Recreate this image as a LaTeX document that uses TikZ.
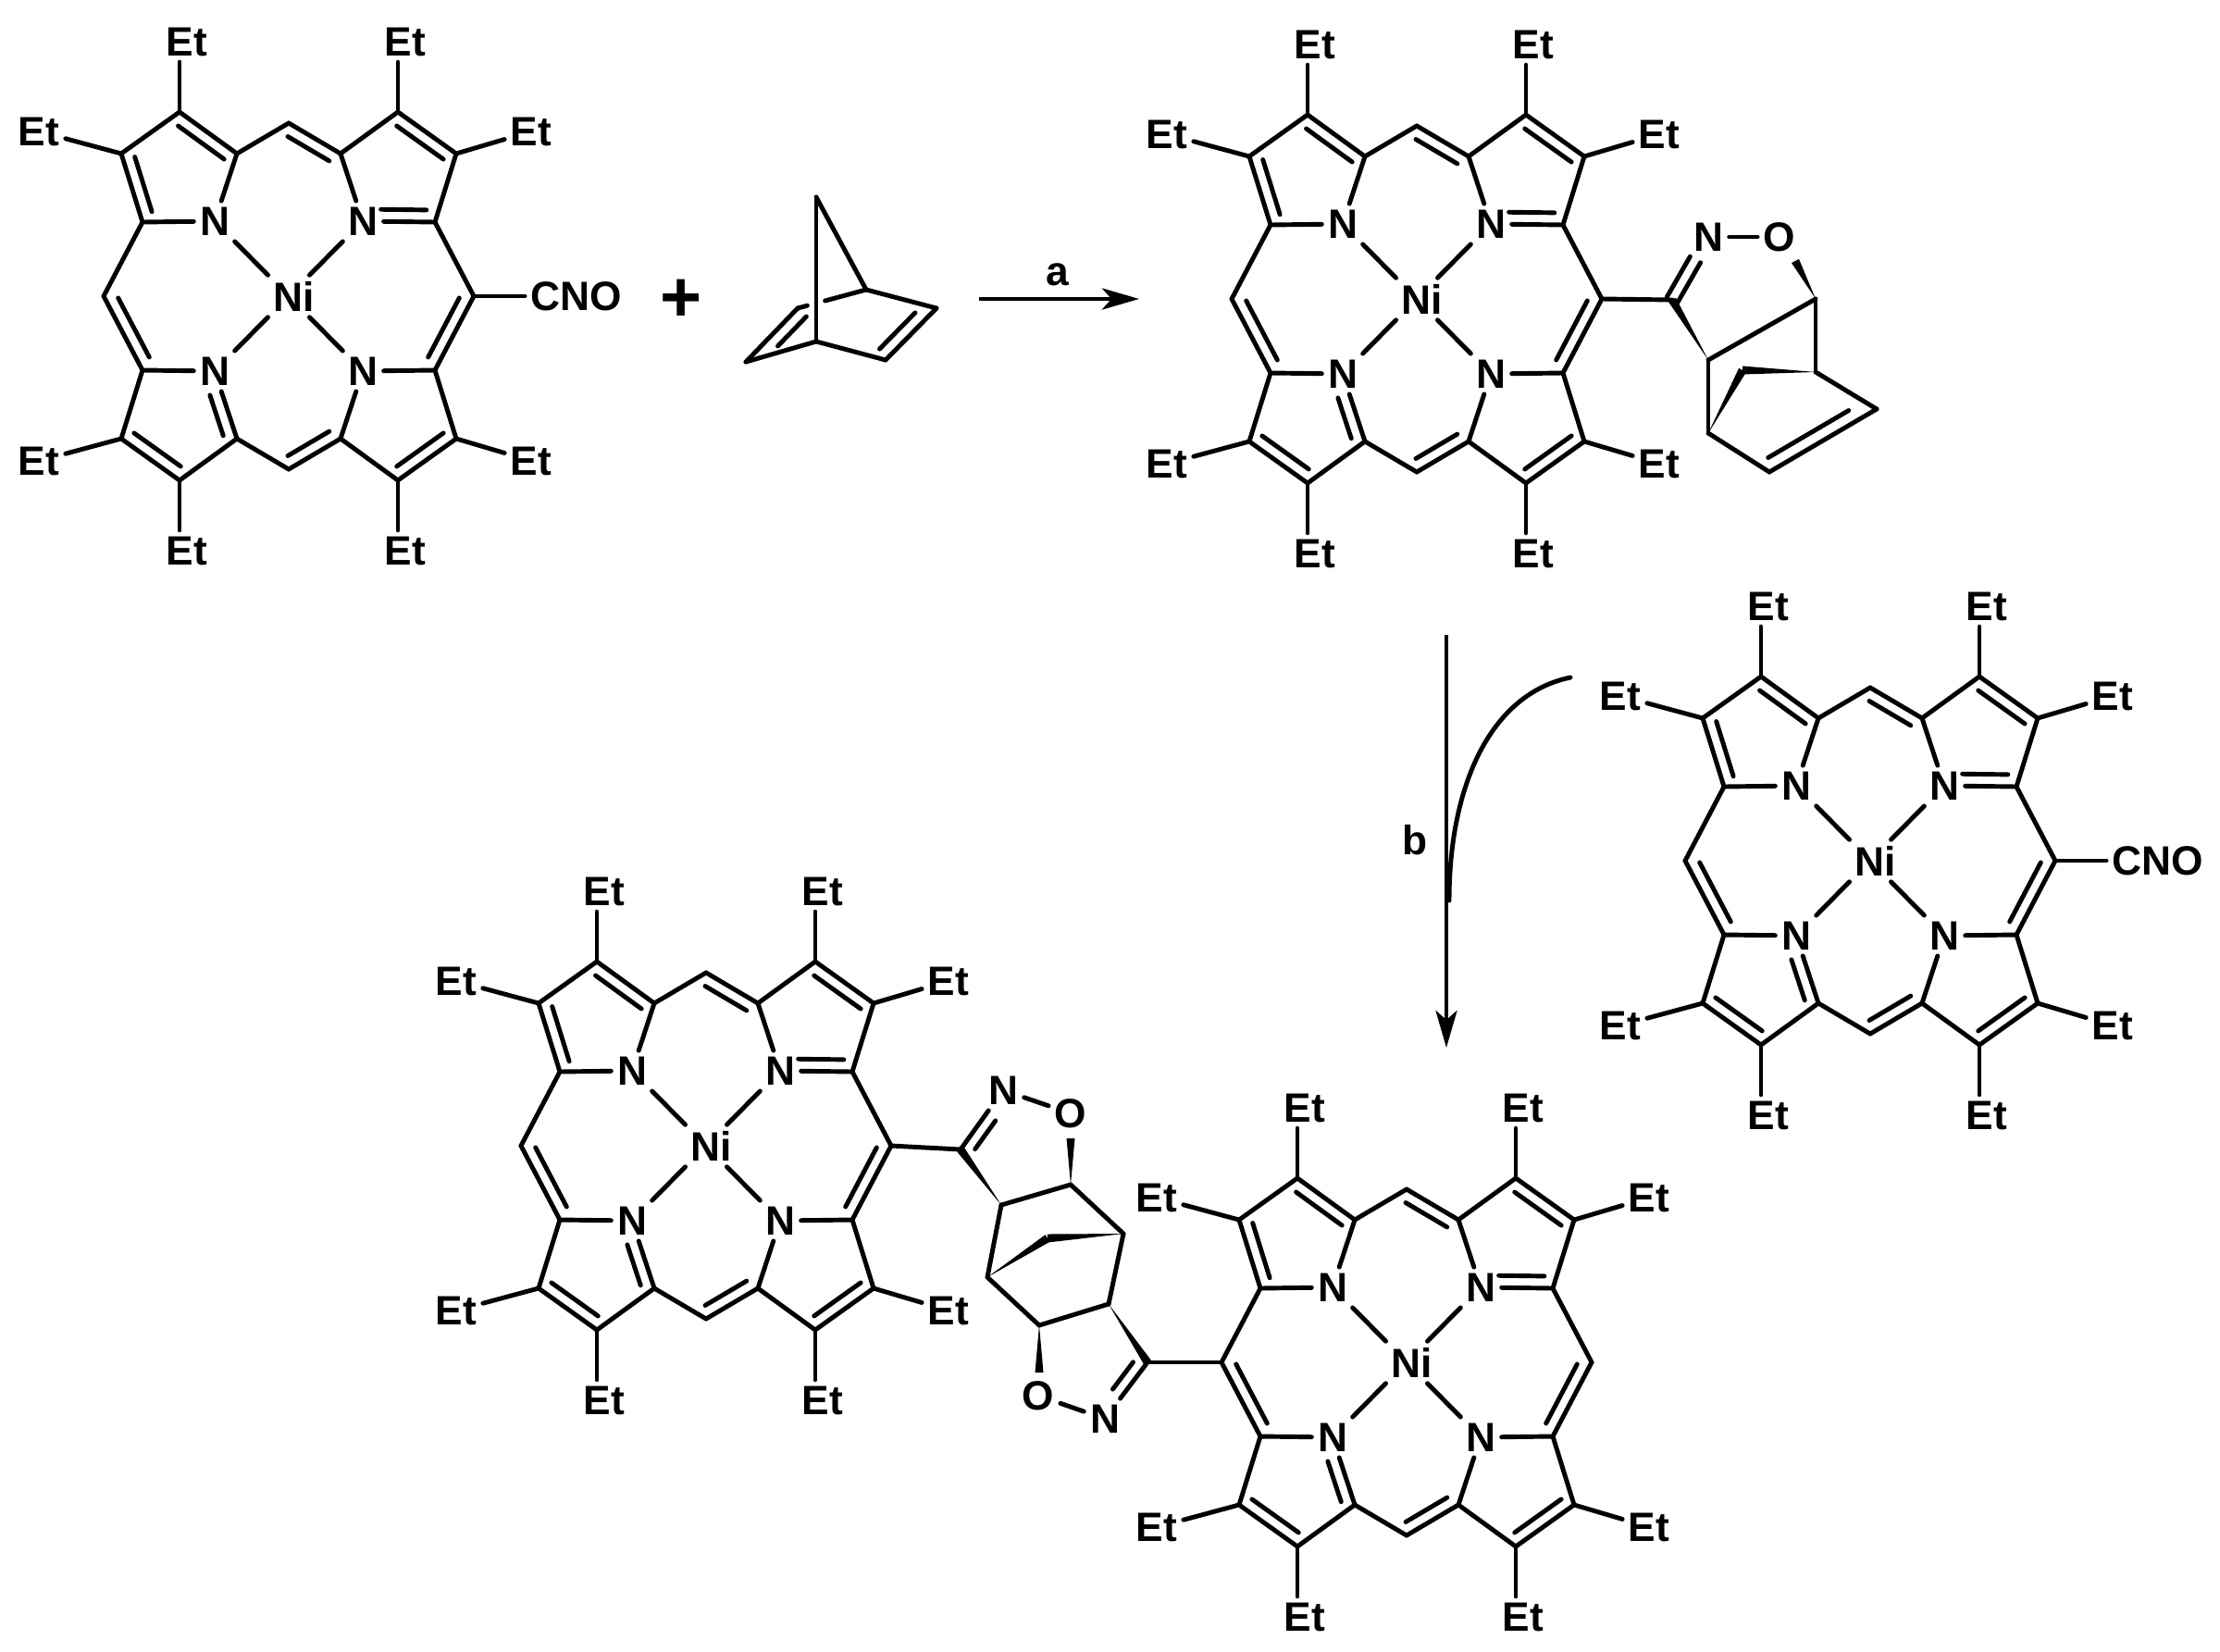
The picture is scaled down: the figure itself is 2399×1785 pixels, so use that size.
\documentclass[tikz,border=0pt]{standalone}
\usepackage{fontspec}
\setmainfont{Liberation Sans}
\usetikzlibrary{calc,arrows.meta}
\newcommand{\dbond}[5]{\draw[bond] ($(#1)!#3!(#2)!#5!90:(#2)$) -- ($(#2)!#4!(#1)!#5!-90:(#1)$);}
\newcommand{\ringd}[2]{\draw[bond] (#1) -- (#2); \dbond{#1}{#2}{.1}{.1}{1.3mm}}
\newcommand{\wdg}[2]{\fill ($(#2)!.45mm!90:(#1)$) -- (#1) -- ($(#2)!.45mm!-90:(#1)$) -- cycle;}
\tikzset{
  bond/.style={line width=1.4pt, line cap=round},
  rxn/.style={line width=1.4pt, -{Stealth[length=4mm,width=2.3mm,inset=1mm]}},
  atom/.style={font=\fontsize{12.6}{14}\selectfont\bfseries, inner sep=.6mm},
  porph/.pic={
    \coordinate (a1) at (-158,-80);
    \coordinate (b1) at (-181,-154);
    \coordinate (b2) at (-118,-199);
    \coordinate (a2) at (-56,-154);
    \coordinate (mt) at (0,-187);
    \coordinate (a3) at (56,-154);
    \coordinate (b3) at (118,-199);
    \coordinate (b4) at (181,-154);
    \coordinate (a4) at (158,-80);
    \coordinate (mr) at (200,0);
    \coordinate (a5) at (158,80);
    \coordinate (b5) at (181,154);
    \coordinate (b6) at (118,199);
    \coordinate (a6) at (56,154);
    \coordinate (mb) at (0,187);
    \coordinate (a7) at (-56,154);
    \coordinate (b7) at (-118,199);
    \coordinate (b8) at (-181,154);
    \coordinate (a8) at (-158,80);
    \coordinate (ml) at (-200,0);
    \node[atom] (n1) at (-80,-81) {N};
    \node[atom] (n2) at (80,-81) {N};
    \node[atom] (n3) at (80,81) {N};
    \node[atom] (n4) at (-80,81) {N};
    \node[atom] (ni) at (0,0) {\hspace{1.2mm}Ni};
    \node[atom] (e1) at (-270,-178) {Et};
    \node[atom] (e2) at (-110,-275) {Et};
    \node[atom] (e3) at (126,-275) {Et};
    \node[atom] (e4) at (262,-178) {Et};
    \node[atom] (e5) at (262,178) {Et};
    \node[atom] (e6) at (126,275) {Et};
    \node[atom] (e7) at (-110,275) {Et};
    \node[atom] (e8) at (-270,178) {Et};
    \draw[bond] (n1) -- (ni);
    \draw[bond] (n2) -- (ni);
    \draw[bond] (n3) -- (ni);
    \draw[bond] (n4) -- (ni);
    % pyrroles
    \draw[bond] (n1) -- (a1);
    \ringd{b1}{a1}
    \draw[bond] (b1) -- (b2);
    \ringd{a2}{b2}
    \draw[bond] (a2) -- (n1);
    \draw[bond] (a3) -- (n2);
    \draw[bond] (a3) -- (b3);
    \ringd{b4}{b3}
    \draw[bond] (b4) -- (a4);
    \draw[bond] (a4) -- (n2);
    \dbond{n2}{a4}{.25}{.12}{1.3mm}
    \draw[bond] (a5) -- (n3);
    \draw[bond] (a5) -- (b5);
    \ringd{b6}{b5}
    \draw[bond] (b6) -- (a6);
    \draw[bond] (a6) -- (n3);
    \draw[bond] (a7) -- (n4);
    \dbond{a7}{n4}{.1}{.3}{1.3mm}
    \draw[bond] (a7) -- (b7);
    \ringd{b8}{b7}
    \draw[bond] (b8) -- (a8);
    \draw[bond] (a8) -- (n4);
    % meso carbons
    \draw[bond] (a2) -- (mt);
    \ringd{a3}{mt}
    \draw[bond] (a4) -- (mr);
    \ringd{a5}{mr}
    \ringd{mb}{a6}
    \draw[bond] (a7) -- (mb);
    \ringd{ml}{a8}
    \draw[bond] (a1) -- (ml);
    % ethyls
    \draw[bond] (b1) -- (e1);
    \draw[bond] (b2) -- (b2 |- e2.south);
    \draw[bond] (b3) -- (b3 |- e3.south);
    \draw[bond] (b4) -- (e4);
    \draw[bond] (b5) -- (e5);
    \draw[bond] (b6) -- (b6 |- e6.north);
    \draw[bond] (b7) -- (b7 |- e7.north);
    \draw[bond] (b8) -- (e8);
  }
}
\begin{document}
\begin{tikzpicture}[x=.1mm, y=-.1mm]
\useasboundingbox (0,0) rectangle (2399,1785);
% porphyrins
\pic (p1) at (312,320) {porph};
\pic (p2) at (1531,323) {porph};
\pic (p3) at (2021,930) {porph};
\pic (p4) at (763,1238) {porph};
\pic (p5) at (1520,1472) {porph};
\node[atom] (cno1) at (623,320) {CNO};
\draw[bond] (p1mr) -- (cno1);
\node[atom] (cno3) at (2332,930) {CNO};
\draw[bond] (p3mr) -- (cno3);
% norbornadiene
\node[atom, font=\fontsize{22}{24}\selectfont\bfseries] (plus) at (736,325) {+};
\coordinate (nb1) at (882,213);
\coordinate (nb2) at (936,313);
\coordinate (nb3) at (1012,333);
\coordinate (nb4) at (957,389);
\coordinate (nb5) at (882,369);
\coordinate (nb6) at (862,333);
\coordinate (nb7) at (806,391);
\draw[bond] (nb1) -- (nb2);
\draw[bond] (nb1) -- (nb5);
\draw[bond] (nb2) -- (nb3);
\draw[bond] (nb3) -- (nb4);
\dbond{nb4}{nb3}{.05}{.25}{1.3mm}
\draw[bond] (nb4) -- (nb5);
\draw[bond] (nb5) -- (nb7);
\draw[bond] (nb7) -- (nb6);
\dbond{nb6}{nb7}{0}{.45}{1.3mm}
\draw[bond] (nb6) -- ($(nb6)!.14!(nb2)$);
\draw[bond] ($(nb6)!.4!(nb2)$) -- (nb2);
% arrow a
\coordinate (ar1) at (1058,323);
\coordinate (ar2) at (1231,323);
\draw[rxn] (ar1) -- (ar2);
\node[atom] (lba) at (1143,297) {a};
% mono adduct
\coordinate (c1) at (1807,324);
\coordinate (c2) at (1846,389);
\coordinate (c3) at (1962,323);
\coordinate (c4) at (1962,402);
\coordinate (c5) at (1846,468);
\coordinate (c6) at (2028,442);
\coordinate (c7) at (1912,510);
\coordinate (c8) at (1883,400);
\coordinate (w1) at (1940,282);
\node[atom] (n5) at (1846,256) {N};
\node[atom] (o5) at (1923,256) {O};
\draw[bond] (p2mr) -- (c1);
\dbond{c1}{n5}{0}{.36}{.65mm}
\dbond{c1}{n5}{0}{.36}{-.65mm}
\draw[bond] (n5) -- (o5);
\wdg{c2}{c1}
\wdg{c3}{w1}
\draw[bond] (c2) -- (c3);
\draw[bond] (c2) -- (c5);
\draw[bond] (c3) -- (c4);
\draw[bond] (c4) -- (c6);
\draw[bond] (c5) -- (c7);
\draw[bond] (c7) -- (c6);
\dbond{c7}{c6}{.05}{.2}{1.4mm}
\wdg{c5}{c8}
\wdg{c4}{c8}
% arrow b
\coordinate (ar3) at (1563,686);
\coordinate (ar4) at (1563,1132);
\coordinate (cv1) at (1697,732);
\coordinate (cv2) at (1566,973);
\draw[rxn] (ar3) -- (ar4);
\draw[bond] (cv1) .. controls (1610,750) and (1566,850) .. (cv2);
\node[atom] (lbb) at (1529,908) {b};
% bis adduct
\coordinate (d1) at (1038,1242);
\coordinate (d2) at (1082,1302);
\coordinate (d3) at (1157,1280);
\coordinate (d4) at (1214,1333);
\coordinate (d5) at (1067,1380);
\coordinate (d6) at (1198,1409);
\coordinate (d7) at (1123,1432);
\coordinate (d8) at (1132,1338);
\coordinate (d9) at (1240,1472);
\coordinate (w2) at (1157,1230);
\coordinate (w3) at (1123,1483);
\node[atom] (n6) at (1084,1178) {N};
\node[atom] (o6) at (1157,1203) {O};
\node[atom] (o7) at (1122,1508) {O};
\node[atom] (n7) at (1194,1533) {N};
\draw[bond] (p4mr) -- (d1);
\draw[bond] (d1) -- (n6);
\dbond{n6}{d1}{.4}{.12}{1.25mm}
\draw[bond] (n6) -- (o6);
\wdg{d2}{d1}
\wdg{d3}{w2}
\draw[bond] (d2) -- (d3);
\draw[bond] (d3) -- (d4);
\draw[bond] (d2) -- (d5);
\draw[bond] (d4) -- (d6);
\draw[bond] (d5) -- (d7);
\draw[bond] (d7) -- (d6);
\wdg{d4}{d8}
\wdg{d5}{d8}
\wdg{d7}{w3}
\draw[bond] (o7) -- (n7);
\draw[bond] (d9) -- (n7);
\dbond{n7}{d9}{.4}{.12}{1.25mm}
\wdg{d6}{d9}
\draw[bond] (d9) -- (p5ml);
\end{tikzpicture}
\end{document}
